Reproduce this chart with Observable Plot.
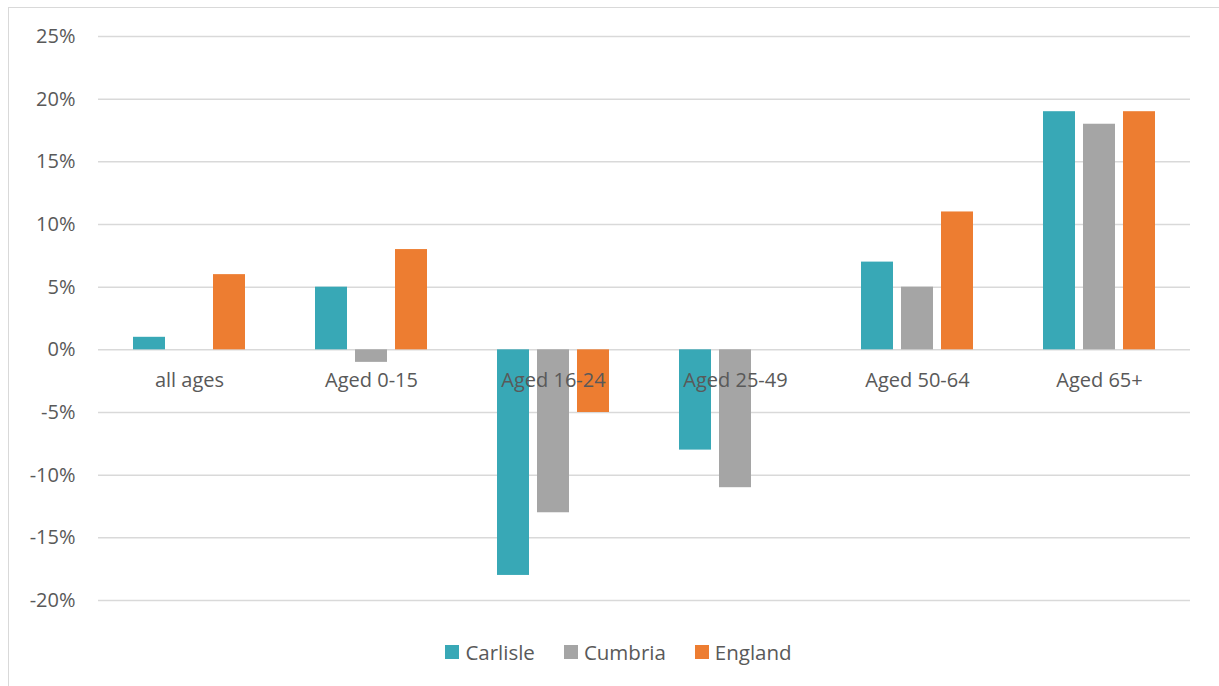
<!DOCTYPE html>
<html>
<head>
<meta charset="utf-8">
<script src="https://cdn.jsdelivr.net/npm/d3@7"></script>
<script src="https://cdn.jsdelivr.net/npm/@observablehq/plot@0.6"></script>
<style>
  html, body { margin: 0; padding: 0; background: #fff; }
  #wrap { position: relative; width: 1219px; height: 686px; overflow: hidden; font-family: "Open Sans", "Noto Sans", sans-serif; }
  #frame { position: absolute; left: 8px; top: 7px; width: 1300px; height: 800px; border: 1.5px solid #d9d9d9; box-sizing: border-box; }
  #chart { position: absolute; left: 0; top: 0; }
  #legend { position: absolute; left: 0; top: 638px; width: 1219px; display: flex; justify-content: center; gap: 29px; font-size: 20.5px; color: #595959; padding-left: 18px; box-sizing: border-box; }
  .item { display: flex; align-items: center; }
  .sw { width: 14px; height: 14px; margin-right: 6px; display: inline-block; }
</style>
</head>
<body>
<div id="wrap">
  <div id="frame"></div>
  <div id="chart"></div>
  <div id="legend"></div>
</div>
<script>
const categories = ["all ages", "Aged 0-15", "Aged 16-24", "Aged 25-49", "Aged 50-64", "Aged 65+"];
const seriesNames = ["Carlisle", "Cumbria", "England"];
const colors = ["#38a8b6", "#a5a5a5", "#ed7d31"];
const carlisle = [1, 5, -18, -8, 7, 19];
const cumbria = [0, -1, -13, -11, 5, 18];
const england = [6, 8, -5, 0, 11, 19];
const yTicks = [-20, -15, -10, -5, 0, 5, 10, 15, 20, 25];

const seriesValues = [carlisle, cumbria, england];
const data = [];
categories.forEach((c, i) => {
  seriesNames.forEach((s, j) => data.push({cat: c, series: s, value: seriesValues[j][i]}));
});

const chart = Plot.plot({
  width: 1219,
  height: 625,
  marginTop: 36,
  marginBottom: 25,
  marginLeft: 96,
  marginRight: 28,
  style: {fontFamily: "'Open Sans', 'Noto Sans', sans-serif", fontSize: "20px", color: "#595959", background: "transparent", overflow: "visible"},
  fx: {domain: categories, padding: 0, axis: null},
  x: {domain: seriesNames, paddingInner: 0.2, paddingOuter: 0.84, axis: null},
  y: {domain: [-20, 25], ticks: yTicks, label: null},
  color: {domain: seriesNames, range: colors},
  marks: [
    Plot.ruleY(yTicks, {stroke: "#d9d9d9", strokeWidth: 1.5}),
    Plot.barY(data, {fx: "cat", x: "series", y: "value", fill: "series"}),
    Plot.text(categories, {fx: d => d, y: 0, text: d => d, dy: 31, fontSize: 20, fill: "#595959"}),
    Plot.axisY({ticks: yTicks, tickFormat: d => d + "%", tickSize: 0, tickPadding: 23, fontSize: 20, fill: "#595959", anchor: "left", label: null})
  ]
});
document.getElementById("chart").appendChild(chart);

const legend = document.getElementById("legend");
seriesNames.forEach((s, i) => {
  const it = document.createElement("div");
  it.className = "item";
  const sw = document.createElement("span");
  sw.className = "sw";
  sw.style.background = colors[i];
  it.appendChild(sw);
  it.appendChild(document.createTextNode(s));
  legend.appendChild(it);
});
</script>
</body>
</html>
